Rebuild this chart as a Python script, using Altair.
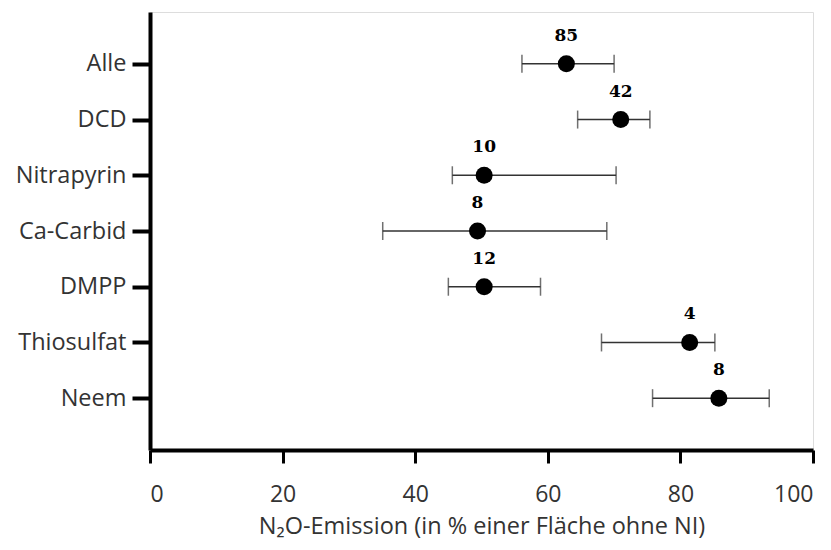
import altair as alt
import pandas as pd

categories = ["Alle", "DCD", "Nitrapyrin", "Ca-Carbid", "DMPP", "Thiosulfat", "Neem"]
means = [62.8, 71.0, 50.4, 49.4, 50.4, 81.4, 85.8]
lower = [56.1, 64.5, 45.6, 35.1, 45.0, 68.1, 75.8]
upper = [70.0, 75.4, 70.3, 68.9, 58.9, 85.2, 93.4]
counts = ["85", "42", "10", "8", "12", "4", "8"]
x_ticks = [0, 20, 40, 60, 80, 100]

df = pd.DataFrame({
    "cat": categories,
    "mean": means,
    "lo": lower,
    "hi": upper,
    "n": counts,
})

yscale = alt.Scale(type="point", padding=0.93, domain=categories)
xscale = alt.Scale(domain=[0, 100], nice=False, zero=False)

y_enc = alt.Y(
    "cat:N",
    scale=yscale,
    sort=categories,
    axis=alt.Axis(
        title=None,
        labelFont="Open Sans",
        labelFontSize=23.5,
        labelColor="#333333",
        tickSize=18,
        tickWidth=4,
        tickColor="black",
        domainWidth=4,
        domainColor="black",
        labelPadding=6,
    ),
)

x_axis = alt.Axis(
    values=x_ticks,
    format="d",
    title="N\u2082O-Emission (in % einer Fläche ohne NI)",
    labelFont="Open Sans",
    labelFontSize=23,
    labelColor="#333333",
    titleFont="Open Sans",
    titleFontSize=23.5,
    titleFontWeight="normal",
    titleColor="#333333",
    titlePadding=8,
    tickSize=13,
    tickWidth=3,
    tickColor="black",
    domainWidth=4,
    domainColor="black",
    labelPadding=20,
    grid=False,
)

base = alt.Chart(df)

rules = base.mark_rule(color="#333333", strokeWidth=1.5).encode(
    y=y_enc,
    x=alt.X("lo:Q", scale=xscale, axis=x_axis),
    x2="hi:Q",
)

cap_lo = base.mark_tick(color="#333333", thickness=1.5, size=18, orient="vertical").encode(
    y=alt.Y("cat:N", scale=yscale, sort=categories),
    x=alt.X("lo:Q", scale=xscale),
)
cap_hi = base.mark_tick(color="#333333", thickness=1.5, size=18, orient="vertical").encode(
    y=alt.Y("cat:N", scale=yscale, sort=categories),
    x=alt.X("hi:Q", scale=xscale),
)

points = base.mark_circle(size=290, color="black", opacity=1).encode(
    y=alt.Y("cat:N", scale=yscale, sort=categories),
    x=alt.X("mean:Q", scale=xscale),
)

labels = base.mark_text(
    dy=-28, font="DejaVu Serif", fontSize=17, fontWeight="bold", color="black",
    baseline="middle", align="center"
).encode(
    y=alt.Y("cat:N", scale=yscale, sort=categories),
    x=alt.X("mean:Q", scale=xscale),
    text="n:N",
)

chart = alt.layer(rules, cap_lo, cap_hi, points, labels).properties(
    width=663,
    height=438,
    autosize=alt.AutoSizeParams(type="none"),
    padding={"left": 142, "top": 4, "right": 10, "bottom": 92},
).configure_view(
    stroke="black", strokeWidth=4
).configure(background="white")

chart.save("out.html", embed_options={"renderer": "svg", "actions": False})
